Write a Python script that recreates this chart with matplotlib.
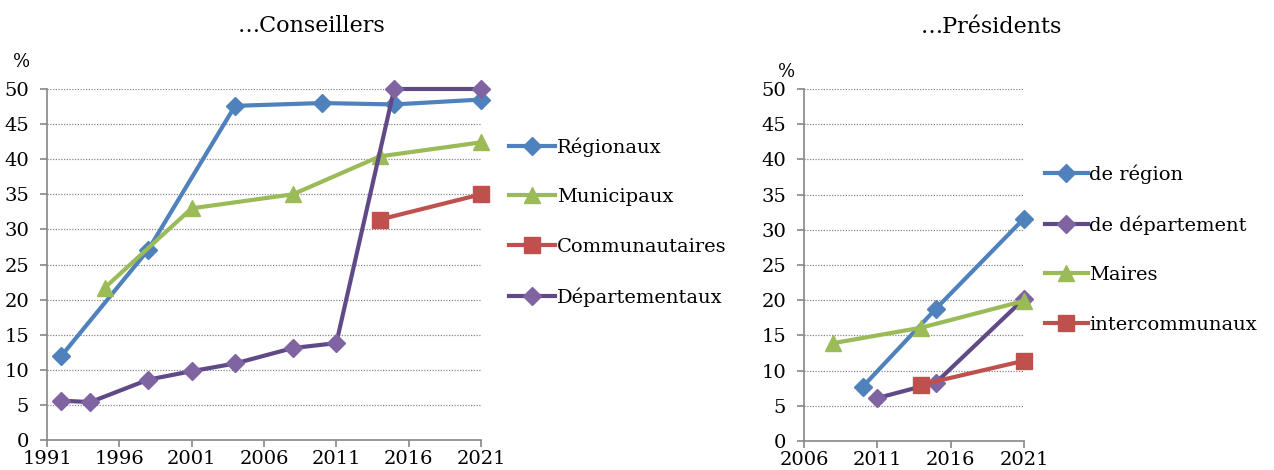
import matplotlib
matplotlib.use("Agg")
import matplotlib.pyplot as plt

plt.rcParams['font.family'] = ['DejaVu Serif']

# Conseillers
reg_x = [1992, 1998, 2004, 2010, 2015, 2021]
reg_y = [12.0, 27.1, 47.6, 48.0, 47.8, 48.5]
mun_x = [1995, 2001, 2008, 2014, 2021]
mun_y = [21.7, 33.0, 35.0, 40.4, 42.4]
com_x = [2014, 2021]
com_y = [31.4, 35.0]
dep_x = [1992, 1994, 1998, 2001, 2004, 2008, 2011, 2015, 2021]
dep_y = [5.6, 5.4, 8.6, 9.8, 10.9, 13.1, 13.8, 50.0, 50.0]

# Présidents
preg_x = [2010, 2015, 2021]
preg_y = [7.7, 18.8, 31.6]
pdep_x = [2011, 2015, 2021]
pdep_y = [6.1, 8.3, 20.2]
maires_x = [2008, 2014, 2021]
maires_y = [13.9, 16.1, 19.9]
inter_x = [2014, 2021]
inter_y = [8.0, 11.4]

BLUE = '#4F81BD'
GREEN = '#9BBB59'
RED = '#C0504D'
PURPLE_L = '#5F4A87'
PURPLE_M = '#8064A2'
GRAY = '#868686'

W, H = 1274, 470
fig = plt.figure(figsize=[W / 100, H / 100], dpi=100)


def px_axes(x0, x1, ytop, ybot):
    return fig.add_axes([x0 / W, 1 - ybot / H, (x1 - x0) / W, (ybot - ytop) / H])


def style(ax, xmin, xmax, xticks):
    ax.set_xlim(xmin, xmax)
    ax.set_ylim(0, 50)
    ax.set_xticks(xticks)
    ax.set_yticks(range(0, 51, 5))
    for y in range(5, 51, 5):
        ax.axhline(y, color=GRAY, lw=0.9, ls=(0, (1, 1.2)), zorder=0)
    for s in ['top', 'right']:
        ax.spines[s].set_visible(False)
    for s in ['left', 'bottom']:
        ax.spines[s].set_color(GRAY)
        ax.spines[s].set_linewidth(1.2)
    ax.tick_params(axis='y', length=5, width=1.2, color=GRAY, pad=8, labelsize=14)
    ax.tick_params(axis='x', length=5, width=1.2, color=GRAY, pad=2, labelsize=14)
    for lab in ax.get_xticklabels() + ax.get_yticklabels():
        lab.set_clip_on(False)


def line(ax, x, y, color, marker, label, mcolor=None, ms=10):
    mcolor = mcolor or color
    ax.plot(x, y, color=color, lw=3, marker=marker, ms=ms, mfc=mcolor, mec=mcolor,
            label=label, clip_on=False)


# left chart
ax1 = px_axes(47, 481, 89, 440)
style(ax1, 1991, 2021, range(1991, 2022, 5))
line(ax1, reg_x, reg_y, BLUE, 'D', 'Régionaux', ms=9)
line(ax1, mun_x, mun_y, GREEN, '^', 'Municipaux', ms=11)
line(ax1, com_x, com_y, RED, 's', 'Communautaires', ms=11)
line(ax1, dep_x, dep_y, PURPLE_L, 'D', 'Départementaux', PURPLE_M, ms=9)
fig.text(312 / W, 1 - 26 / H, '…Conseillers', fontsize=16, ha='center', va='center')
fig.text(22 / W, 1 - 62 / H, '%', fontsize=13, ha='center', va='center')
ax1.legend(loc='center left', bbox_to_anchor=(499 / W, 1 - 222 / H),
           bbox_transform=fig.transFigure, frameon=False, fontsize=14,
           handlelength=2.4, handletextpad=0.1, labelspacing=1.62, borderpad=0)

# right chart
ax2 = px_axes(804, 1024, 89, 441)
style(ax2, 2006, 2021, range(2006, 2022, 5))
line(ax2, preg_x, preg_y, BLUE, 'D', 'de région', ms=9)
line(ax2, pdep_x, pdep_y, PURPLE_L, 'D', 'de département', PURPLE_M, ms=9)
line(ax2, maires_x, maires_y, GREEN, '^', 'Maires', ms=11)
line(ax2, inter_x, inter_y, RED, 's', 'intercommunaux', ms=11)
fig.text(991 / W, 1 - 27 / H, '…Présidents', fontsize=16, ha='center', va='center')
fig.text(787 / W, 1 - 72 / H, '%', fontsize=13, ha='center', va='center')
ax2.legend(loc='center left', bbox_to_anchor=(1035 / W, 1 - 249 / H),
           bbox_transform=fig.transFigure, frameon=False, fontsize=14,
           handlelength=2.2, handletextpad=0.1, labelspacing=1.62, borderpad=0)

fig.savefig('out.png', dpi=100)
